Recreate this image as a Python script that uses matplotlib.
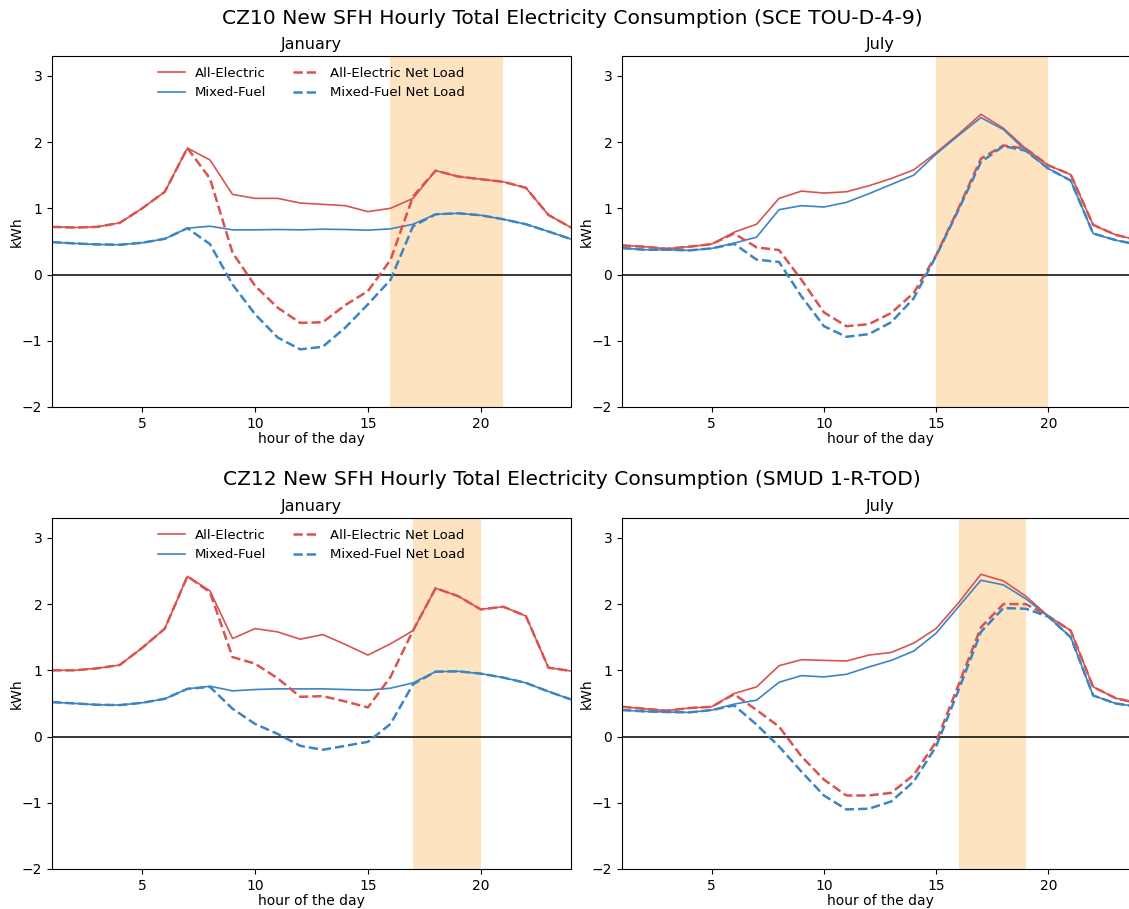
import matplotlib

matplotlib.use("Agg")
import matplotlib.pyplot as plt  # noqa: E402

hours = list(range(1, 25))

# CZ10, SCE TOU-D-4-9
cz10_jan_ae = [0.72, 0.71, 0.72, 0.78, 1.00, 1.25, 1.91, 1.73, 1.21, 1.15, 1.15, 1.08,
               1.06, 1.04, 0.95, 1.00, 1.15, 1.57, 1.48, 1.44, 1.40, 1.31, 0.90, 0.71]
cz10_jan_ae_net = [0.72, 0.71, 0.72, 0.78, 1.00, 1.25, 1.91, 1.45, 0.33, -0.17, -0.50, -0.73,
                   -0.72, -0.46, -0.25, 0.22, 1.18, 1.57, 1.48, 1.44, 1.40, 1.31, 0.90, 0.71]
cz10_jan_mf = [0.49, 0.47, 0.455, 0.45, 0.48, 0.54, 0.70, 0.73, 0.675, 0.675, 0.68, 0.675,
               0.685, 0.68, 0.67, 0.69, 0.76, 0.91, 0.925, 0.895, 0.835, 0.76, 0.65, 0.535]
cz10_jan_mf_net = [0.49, 0.47, 0.455, 0.45, 0.48, 0.54, 0.70, 0.46, -0.15, -0.60, -0.95, -1.13,
                   -1.09, -0.80, -0.45, -0.08, 0.73, 0.91, 0.925, 0.895, 0.835, 0.76, 0.65, 0.535]

cz10_jul_ae = [0.44, 0.42, 0.39, 0.42, 0.46, 0.64, 0.76, 1.15, 1.26, 1.23, 1.25, 1.34,
               1.45, 1.58, 1.84, 2.12, 2.42, 2.21, 1.90, 1.65, 1.51, 0.75, 0.60, 0.52]
cz10_jul_ae_net = [0.44, 0.42, 0.39, 0.42, 0.46, 0.62, 0.41, 0.37, -0.08, -0.57, -0.78, -0.75,
                   -0.58, -0.28, 0.29, 1.00, 1.75, 1.95, 1.90, 1.65, 1.51, 0.75, 0.60, 0.52]
cz10_jul_mf = [0.40, 0.375, 0.375, 0.365, 0.395, 0.475, 0.565, 0.98, 1.04, 1.02, 1.09, 1.22,
               1.36, 1.50, 1.82, 2.10, 2.37, 2.19, 1.87, 1.60, 1.42, 0.62, 0.52, 0.45]
cz10_jul_mf_net = [0.40, 0.375, 0.375, 0.365, 0.395, 0.465, 0.225, 0.19, -0.33, -0.78, -0.94, -0.90,
                   -0.72, -0.36, 0.28, 0.98, 1.70, 1.94, 1.87, 1.60, 1.42, 0.62, 0.52, 0.45]

# CZ12, SMUD 1-R-TOD
cz12_jan_ae = [1.00, 1.00, 1.03, 1.08, 1.34, 1.63, 2.42, 2.20, 1.48, 1.63, 1.58, 1.47,
               1.54, 1.39, 1.23, 1.40, 1.60, 2.24, 2.12, 1.92, 1.96, 1.82, 1.04, 0.99]
cz12_jan_ae_net = [1.00, 1.00, 1.03, 1.08, 1.34, 1.63, 2.42, 2.18, 1.20, 1.10, 0.88, 0.60,
                   0.61, 0.53, 0.44, 0.90, 1.60, 2.24, 2.12, 1.92, 1.96, 1.82, 1.04, 0.99]
cz12_jan_mf = [0.52, 0.50, 0.48, 0.475, 0.51, 0.57, 0.72, 0.76, 0.69, 0.71, 0.72, 0.72,
               0.72, 0.71, 0.70, 0.73, 0.81, 0.98, 0.985, 0.95, 0.89, 0.81, 0.68, 0.56]
cz12_jan_mf_net = [0.52, 0.50, 0.48, 0.475, 0.51, 0.57, 0.72, 0.75, 0.42, 0.19, 0.04, -0.14,
                   -0.20, -0.14, -0.08, 0.19, 0.79, 0.98, 0.985, 0.95, 0.89, 0.81, 0.68, 0.56]

cz12_jul_ae = [0.45, 0.42, 0.39, 0.43, 0.45, 0.65, 0.75, 1.07, 1.16, 1.15, 1.14, 1.23,
               1.27, 1.41, 1.63, 2.02, 2.45, 2.35, 2.12, 1.82, 1.60, 0.75, 0.58, 0.50]
cz12_jul_ae_net = [0.45, 0.42, 0.39, 0.43, 0.45, 0.64, 0.40, 0.15, -0.30, -0.65, -0.89, -0.89,
                   -0.85, -0.58, -0.08, 0.78, 1.65, 2.00, 2.00, 1.82, 1.60, 0.75, 0.58, 0.50]
cz12_jul_mf = [0.40, 0.38, 0.37, 0.365, 0.40, 0.49, 0.55, 0.82, 0.92, 0.90, 0.94, 1.05,
               1.15, 1.29, 1.56, 1.96, 2.36, 2.29, 2.08, 1.81, 1.50, 0.62, 0.50, 0.45]
cz12_jul_mf_net = [0.40, 0.38, 0.37, 0.365, 0.40, 0.47, 0.18, -0.15, -0.53, -0.89, -1.10, -1.09,
                   -0.98, -0.68, -0.15, 0.70, 1.58, 1.94, 1.93, 1.81, 1.50, 0.62, 0.50, 0.45]

# peak (TOU) windows, start/end hour
peak_windows = [(16, 21), (15, 20), (17, 20), (16, 19)]

suptitles = [
    "CZ10 New SFH Hourly Total Electricity Consumption (SCE TOU-D-4-9)",
    "CZ12 New SFH Hourly Total Electricity Consumption (SMUD 1-R-TOD)",
]
months = ["January", "July"]

RED = "#d9534f"
BLUE = "#3d84c2"
SHADE = "#fde3c0"

panels = [
    (cz10_jan_ae, cz10_jan_mf, cz10_jan_ae_net, cz10_jan_mf_net),
    (cz10_jul_ae, cz10_jul_mf, cz10_jul_ae_net, cz10_jul_mf_net),
    (cz12_jan_ae, cz12_jan_mf, cz12_jan_ae_net, cz12_jan_mf_net),
    (cz12_jul_ae, cz12_jul_mf, cz12_jul_ae_net, cz12_jul_mf_net),
]

W, H = 1129, 909
fig = plt.figure(figsize=(W / 100, H / 100), dpi=100)

# axes boxes in pixels: left, top, right, bottom
boxes = [
    (52, 56, 571, 407),
    (622, 56, 1138, 407),
    (52, 518, 571, 869),
    (622, 518, 1138, 869),
]

for i, (box, series, window) in enumerate(zip(boxes, panels, peak_windows)):
    l, t, r, b = box
    ax = fig.add_axes([l / W, 1 - b / H, (r - l) / W, (b - t) / H])
    ae, mf, ae_net, mf_net = series
    ax.axvspan(window[0], window[1], color=SHADE, lw=0, zorder=0)
    ax.axhline(0, color="black", lw=1.1, zorder=1)
    ax.plot(hours, ae, color=RED, lw=1.2, label="All-Electric")
    ax.plot(hours, mf, color=BLUE, lw=1.2, label="Mixed-Fuel")
    ax.plot(hours, ae_net, color=RED, lw=1.8, ls="--", label="All-Electric Net Load")
    ax.plot(hours, mf_net, color=BLUE, lw=1.8, ls="--", label="Mixed-Fuel Net Load")
    ax.set_xlim(1, 24)
    ax.set_ylim(-2, 3.3)
    ax.set_xticks([5, 10, 15, 20])
    ax.set_yticks([-2, -1, 0, 1, 2, 3])
    ax.set_xlabel("hour of the day", fontsize=10, labelpad=1)
    ax.set_ylabel("kWh", fontsize=10, labelpad=-1.5)
    ax.set_title(months[i % 2], fontsize=11.5, pad=5)
    if i % 2 == 0:
        ax.legend(loc="upper center", ncol=2, frameon=False, fontsize=9.5,
                  columnspacing=2.0, handlelength=2.0, borderaxespad=0.4)

fig.text(572 / W, 1 - 18 / H, suptitles[0], ha="center", va="center", fontsize=14.6)
fig.text(572 / W, 1 - 480 / H, suptitles[1], ha="center", va="center", fontsize=14.6)

fig.savefig("out.png", dpi=100)
plt.close(fig)
